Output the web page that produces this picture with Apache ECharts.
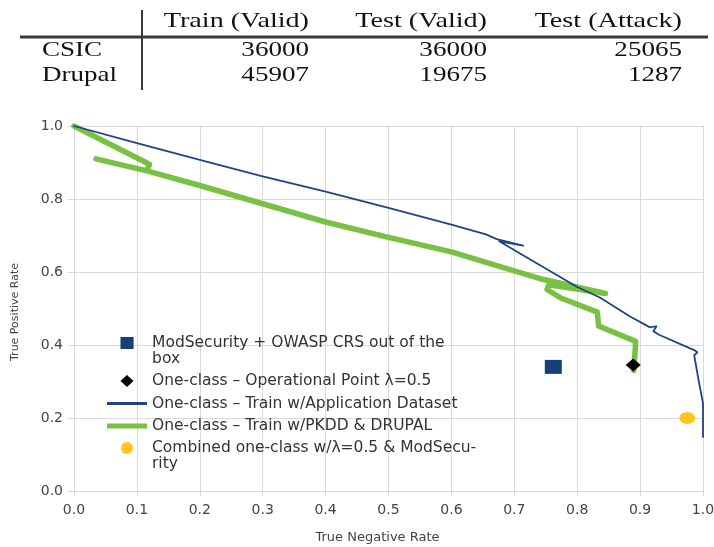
<!DOCTYPE html>
<html>
<head>
<meta charset="utf-8">
<script src="https://cdn.jsdelivr.net/npm/echarts@6/dist/echarts.min.js"></script>
<style>
html,body{margin:0;padding:0;background:#ffffff;}
#chart{width:714px;height:547px;}
</style>
</head>
<body>
<div id="chart"></div>
<script>
// ---------- data ----------
const tableColumns = ['Train (Valid)', 'Test (Valid)', 'Test (Attack)'];
const tableRows = ['CSIC', 'Drupal'];
const csicCounts = [36000, 36000, 25065];
const drupalCounts = [45907, 19675, 1287];

const seriesNames = [
  'ModSecurity + OWASP CRS out of the box',
  'One-class – Operational Point λ=0.5',
  'One-class – Train w/Application Dataset',
  'One-class – Train w/PKDD & DRUPAL',
  'Combined one-class w/λ=0.5 & ModSecurity'
];
const legendLabels = [
  ['ModSecurity + OWASP CRS out of the', 'box'],
  ['One-class – Operational Point λ=0.5'],
  ['One-class – Train w/Application Dataset'],
  ['One-class – Train w/PKDD & DRUPAL'],
  ['Combined one-class w/λ=0.5 & ModSecu-', 'rity']
];

const axisTitles = ['True Negative Rate', 'True Positive Rate'];

// [true negative rate, true positive rate]
const appDatasetCurve = [
  [0.0, 1.0], [0.1, 0.953], [0.2, 0.907], [0.3, 0.862], [0.4, 0.82],
  [0.5, 0.776], [0.6, 0.73], [0.655, 0.703], [0.672, 0.69], [0.714, 0.672],
  [0.676, 0.684], [0.8, 0.559], [0.836, 0.53], [0.884, 0.478], [0.915, 0.449],
  [0.926, 0.451], [0.921, 0.438], [0.93, 0.428], [0.986, 0.386], [0.991, 0.38],
  [0.986, 0.372], [0.993, 0.304], [1.0, 0.24], [1.0, 0.148]
];
const pkddDrupalCurve = [
  [0.0, 1.0], [0.12, 0.895], [0.116, 0.877], [0.035, 0.91], [0.116, 0.877],
  [0.2, 0.837], [0.3, 0.787], [0.4, 0.737], [0.5, 0.695], [0.6, 0.655],
  [0.7, 0.603], [0.745, 0.58], [0.845, 0.541], [0.755, 0.565], [0.752, 0.552],
  [0.775, 0.528], [0.832, 0.49], [0.834, 0.452], [0.893, 0.41], [0.89, 0.33]
];
const modSecurityPoint = [[0.762, 0.34]];
const operationalPoint = [[0.889, 0.345]];
const combinedPoint = [[0.975, 0.2]];

// ---------- styling / layout ----------
const SANS = '"DejaVu Sans", "Liberation Sans", sans-serif';
const SERIF = '"Liberation Serif", "Times New Roman", serif';
const C_BLUE = '#1f4383';
const C_SQUARE = '#173f7c';
const C_GREEN = '#79c143';
const C_YELLOW = '#ffc322';
const C_GRID = '#d9d9d9';
const C_TEXT = '#444444';

// table layout
const tableColRight = [309, 487, 682];
const tableHeaderY = 21;
const tableRowY = [50.6, 75.6];
const tableLabelX = 42;
const tableStretch = 1.23;
const tableHeaderStretch = 1.28;
const tableFill = '#121212';

const graphics = [];
tableColumns.forEach(function (t, i) {
  graphics.push({
    type: 'text', x: tableColRight[i], y: tableHeaderY, scaleX: tableHeaderStretch,
    style: { text: t, align: 'right', verticalAlign: 'middle', fontFamily: SERIF, fontSize: 22, fill: tableFill }
  });
});
const tableValues = [csicCounts, drupalCounts];
tableRows.forEach(function (r, ri) {
  graphics.push({
    type: 'text', x: tableLabelX, y: tableRowY[ri], scaleX: tableStretch,
    style: { text: r, align: 'left', verticalAlign: 'middle', fontFamily: SERIF, fontSize: 22, fill: tableFill }
  });
  tableValues[ri].forEach(function (v, ci) {
    graphics.push({
      type: 'text', x: tableColRight[ci], y: tableRowY[ri], scaleX: tableStretch,
      style: { text: String(v), align: 'right', verticalAlign: 'middle', fontFamily: SERIF, fontSize: 22, fill: tableFill }
    });
  });
});
graphics.push({ type: 'line', shape: { x1: 20, y1: 37, x2: 708, y2: 37 }, style: { stroke: '#3a3a3a', lineWidth: 3 } });
graphics.push({ type: 'line', shape: { x1: 142, y1: 10, x2: 142, y2: 90 }, style: { stroke: '#3a3a3a', lineWidth: 2 } });

// legend text: two-line labels get an empty first line so that the
// icon (vertically centred on the text block) lines up with the first text line
const legendLabelMap = {};
seriesNames.forEach(function (n, i) {
  const lines = legendLabels[i];
  legendLabelMap[n] = lines.length > 1 ? '\n' + lines.join('\n') : lines[0];
});

const ICON_SQUARE = 'path://M0,0L12,0L12,11L0,11Z';
const ICON_DIAMOND = 'path://M6,0L12,5.5L6,11L0,5.5Z';
const ICON_THIN = 'path://M0,0L40,0L40,3L0,3Z';
const ICON_THICK = 'path://M0,0L40,0L40,5L0,5Z';

const legendBase = {
  orient: 'vertical', padding: 0, itemWidth: 40, itemHeight: 12,
  selectedMode: false,
  formatter: function (name) { return legendLabelMap[name]; },
  textStyle: { fontFamily: SANS, fontSize: 15.5, color: '#333333', lineHeight: 16 }
};

const option = {
  animation: false,
  backgroundColor: '#ffffff',
  graphic: graphics,
  grid: { left: 74, right: 11, top: 126, bottom: 56, containLabel: false, outerBoundsMode: 'none' },
  legend: [
    Object.assign({}, legendBase, {
      left: 120.5, top: 319,
      data: [{ name: seriesNames[0], icon: ICON_SQUARE }]
    }),
    Object.assign({}, legendBase, {
      left: 107, top: 373, itemGap: 6.5,
      data: [
        { name: seriesNames[1], icon: ICON_DIAMOND },
        { name: seriesNames[2], icon: ICON_THIN },
        { name: seriesNames[3], icon: ICON_THICK }
      ]
    }),
    Object.assign({}, legendBase, {
      left: 121, top: 424,
      data: [{ name: seriesNames[4], icon: 'circle' }]
    })
  ],
  xAxis: {
    type: 'value', min: 0, max: 1, interval: 0.1,
    name: axisTitles[0], nameLocation: 'middle', nameGap: 40,
    nameTextStyle: { fontFamily: SANS, fontSize: 13, color: C_TEXT, padding: [0, 22, 0, 0] },
    axisLine: { show: true, lineStyle: { color: C_GRID, width: 1 } },
    axisTick: { show: true, length: 5, lineStyle: { color: C_GRID } },
    axisLabel: { fontFamily: SANS, fontSize: 14, color: C_TEXT, margin: 12,
      formatter: function (v) { return v.toFixed(1); } },
    splitLine: { show: true, lineStyle: { color: C_GRID, width: 1 } }
  },
  yAxis: {
    type: 'value', min: 0, max: 1, interval: 0.2,
    name: axisTitles[1], nameLocation: 'middle', nameGap: 53,
    nameTextStyle: { fontFamily: SANS, fontSize: 11, color: C_TEXT, padding: [0, 7, 0, 0] },
    axisLine: { show: true, lineStyle: { color: C_GRID, width: 1 } },
    axisTick: { show: true, length: 6, lineStyle: { color: C_GRID } },
    axisLabel: { fontFamily: SANS, fontSize: 14, color: C_TEXT, margin: 11,
      formatter: function (v) { return v.toFixed(1); } },
    splitLine: { show: true, lineStyle: { color: C_GRID, width: 1 } }
  },
  series: [
    {
      name: seriesNames[3], type: 'line', data: pkddDrupalCurve, symbol: 'none', z: 2,
      lineStyle: { color: C_GREEN, width: 5.5, join: 'round', cap: 'round' },
      itemStyle: { color: C_GREEN }, emphasis: { disabled: true }
    },
    {
      name: seriesNames[2], type: 'line', data: appDatasetCurve, symbol: 'none', z: 3,
      lineStyle: { color: C_BLUE, width: 1.8, join: 'round', cap: 'round' },
      itemStyle: { color: C_BLUE }, emphasis: { disabled: true }
    },
    {
      name: seriesNames[0], type: 'scatter', data: modSecurityPoint, symbol: 'rect',
      symbolSize: [17, 14], z: 4, itemStyle: { color: C_SQUARE, opacity: 1 }, emphasis: { disabled: true }
    },
    {
      name: seriesNames[1], type: 'scatter', data: operationalPoint, symbol: 'diamond',
      symbolSize: [15, 13], z: 5, itemStyle: { color: '#000000', opacity: 1 }, emphasis: { disabled: true }
    },
    {
      name: seriesNames[4], type: 'scatter', data: combinedPoint, symbol: 'circle',
      symbolSize: [16, 12], z: 4, itemStyle: { color: C_YELLOW, opacity: 1 }, emphasis: { disabled: true }
    }
  ]
};

const chart = echarts.init(document.getElementById('chart'));
chart.setOption(option);
</script>
</body>
</html>
